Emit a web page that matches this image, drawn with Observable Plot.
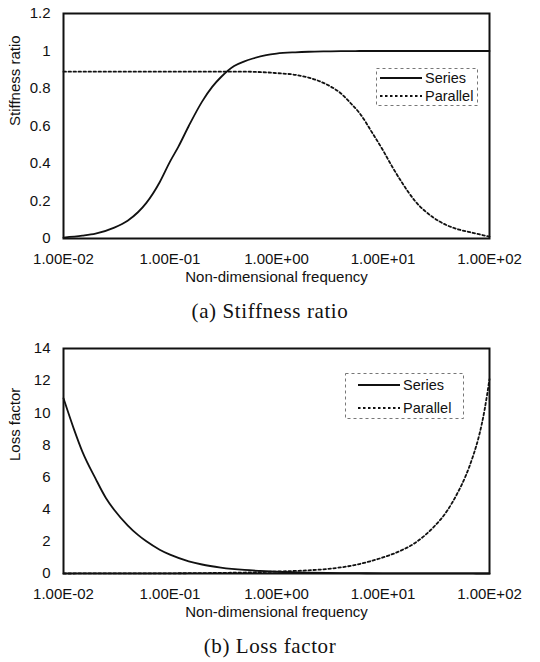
<!DOCTYPE html>
<html>
<head>
<meta charset="utf-8">
<script src="https://cdn.jsdelivr.net/npm/d3@7"></script>
<script src="https://cdn.jsdelivr.net/npm/@observablehq/plot@0.6"></script>
<style>
  html, body { margin: 0; padding: 0; background: #fff; overflow: hidden; }
  #page { position: relative; width: 540px; height: 662px; }
  .panel { position: absolute; left: 0; width: 540px; }
  .caption { position: absolute; left: 0; width: 540px; text-align: center;
             font-family: "Liberation Serif", "DejaVu Serif", serif; font-size: 21px;
             letter-spacing: 0.6px; color: #111; }
  .legend { position: absolute; }
</style>
</head>
<body>
<div id="page"></div>
<script>
// ---- Data ----
const freqA = [0.01,0.015,0.02,0.03,0.04,0.05,0.06,0.08,0.1,0.12,0.15,0.2,0.25,0.3,0.4,0.5,0.6,0.8,1,1.5,2,3,4,5,6,8,10,12,15,20,30,40,50,70,100];
const stiffSeries = [0.005,0.015,0.026,0.058,0.095,0.14,0.19,0.30,0.41,0.49,0.60,0.73,0.81,0.86,0.92,0.945,0.96,0.978,0.986,0.993,0.996,0.998,0.999,0.999,1,1,1,1,1,1,1,1,1,1,1];
const stiffParallel = [0.89,0.89,0.89,0.89,0.89,0.89,0.89,0.89,0.89,0.89,0.89,0.89,0.89,0.89,0.89,0.89,0.889,0.886,0.882,0.873,0.858,0.82,0.775,0.72,0.67,0.56,0.47,0.39,0.30,0.20,0.11,0.07,0.05,0.03,0.01];

const freqB = [0.01,0.0125,0.015,0.02,0.025,0.03,0.04,0.05,0.06,0.08,0.1,0.15,0.2,0.3,0.5,0.7,1,1.5,2,3,4,5,7,10,15,20,25,30,40,50,60,70,80,90,100];
const lossSeries = [10.9,9.0,7.6,5.9,4.7,3.95,3.0,2.4,2.0,1.48,1.17,0.76,0.56,0.37,0.22,0.16,0.11,0.075,0.055,0.037,0.028,0.022,0.016,0.011,0.008,0.006,0.005,0.004,0.003,0.002,0.002,0.002,0.001,0.001,0.001];
const lossParallel = [0.001,0.0015,0.002,0.0025,0.003,0.004,0.005,0.006,0.007,0.01,0.012,0.018,0.025,0.037,0.06,0.085,0.12,0.16,0.2,0.28,0.38,0.48,0.7,1.0,1.45,1.9,2.4,2.9,3.9,5.0,6.1,7.3,8.6,10.2,12.1];

const xTicks = [0.01, 0.1, 1, 10, 100];
const yTicksA = [0, 0.2, 0.4, 0.6, 0.8, 1, 1.2];
const yTicksB = [0, 2, 4, 6, 8, 10, 12, 14];
const seriesNames = ["Series", "Parallel"];
const xTitle = "Non-dimensional frequency";

function sciFmt(d) {
  const e = Math.round(Math.log10(d));
  return "1.00E" + (e < 0 ? "-" : "+") + String(Math.abs(e)).padStart(2, "0");
}

const page = document.getElementById("page");

function makePanel({top, freq, s, p, yDomain, yTicks, yTitle, caption, legendBox}) {
  const rows = freq.map((f, i) => ({f, s: s[i], p: p[i]}));
  const chart = Plot.plot({
    width: 540, height: 293,
    marginLeft: 63, marginRight: 51, marginTop: 13, marginBottom: 55,
    x: {type: "log", domain: [0.01, 100]},
    y: {domain: yDomain},
    style: {fontFamily: "'Liberation Sans', Arial, sans-serif", fontSize: "15px", color: "#111", background: "white"},
    marks: [
      Plot.axisX(xTicks, {tickFormat: sciFmt, tickSize: 0, tickPadding: 15, label: null, fontSize: 15}),
      Plot.axisY(yTicks, {tickFormat: d => String(+d.toFixed(2)), tickSize: 0, tickPadding: 13, label: null, fontSize: 15}),
      Plot.line(rows, {x: "f", y: "p", stroke: "#111", strokeWidth: 1.8, strokeDasharray: "2.5,2.5", curve: "monotone-x"}),
      Plot.line(rows, {x: "f", y: "s", stroke: "#111", strokeWidth: 1.8, curve: "monotone-x"}),
      Plot.frame({stroke: "#111", strokeWidth: 2}),
      Plot.text([xTitle], {frameAnchor: "bottom", dy: 43, fontSize: 15, fill: "#111"}),
      Plot.text([yTitle], {frameAnchor: "left", dx: -48, rotate: -90, fontSize: 15, fill: "#111"})
    ]
  });
  const wrap = document.createElement("div");
  wrap.className = "panel";
  wrap.style.top = top + "px";
  wrap.appendChild(chart);
  page.appendChild(wrap);

  const cap = document.createElement("div");
  cap.className = "caption";
  cap.style.top = (top + 293) + "px";
  cap.style.height = "36px";
  cap.style.lineHeight = "36px";
  cap.textContent = caption;
  page.appendChild(cap);

  // legend overlay
  const {x, y, w, h, lx0, lx1, ty1, ty2} = legendBox;
  const ns = "http://www.w3.org/2000/svg";
  const svg = document.createElementNS(ns, "svg");
  svg.setAttribute("width", w); svg.setAttribute("height", h);
  svg.setAttribute("class", "legend");
  svg.style.left = x + "px"; svg.style.top = (top + y) + "px";
  const rect = document.createElementNS(ns, "rect");
  rect.setAttribute("x", 0.5); rect.setAttribute("y", 0.5);
  rect.setAttribute("width", w - 1); rect.setAttribute("height", h - 1);
  rect.setAttribute("fill", "white"); rect.setAttribute("stroke", "#777");
  rect.setAttribute("stroke-dasharray", "3,3"); rect.setAttribute("stroke-width", 1);
  svg.appendChild(rect);
  [[ty1, null], [ty2, "2.5,2.5"]].forEach(([yy, dash], i) => {
    const ln = document.createElementNS(ns, "line");
    ln.setAttribute("x1", lx0); ln.setAttribute("x2", lx1);
    ln.setAttribute("y1", yy); ln.setAttribute("y2", yy);
    ln.setAttribute("stroke", "#111"); ln.setAttribute("stroke-width", 1.8);
    if (dash) ln.setAttribute("stroke-dasharray", dash);
    svg.appendChild(ln);
    const t = document.createElementNS(ns, "text");
    t.setAttribute("x", lx1 + 3); t.setAttribute("y", yy);
    t.setAttribute("dy", "0.35em");
    t.setAttribute("font-family", "'Liberation Sans', Arial, sans-serif");
    t.setAttribute("font-size", "14.5px"); t.setAttribute("fill", "#111");
    t.textContent = seriesNames[i];
    svg.appendChild(t);
  });
  page.appendChild(svg);
}

makePanel({
  top: 0, freq: freqA, s: stiffSeries, p: stiffParallel,
  yDomain: [0, 1.2], yTicks: yTicksA, yTitle: "Stiffness ratio",
  caption: "(a)  Stiffness ratio",
  legendBox: {x: 376, y: 68, w: 102, h: 38, lx0: 4, lx1: 46, ty1: 10, ty2: 28}
});
makePanel({
  top: 335, freq: freqB, s: lossSeries, p: lossParallel,
  yDomain: [0, 14], yTicks: yTicksB, yTitle: "Loss factor",
  caption: "(b)  Loss factor",
  legendBox: {x: 345, y: 38, w: 119, h: 46, lx0: 13, lx1: 55, ty1: 12, ty2: 35}
});
</script>
</body>
</html>
